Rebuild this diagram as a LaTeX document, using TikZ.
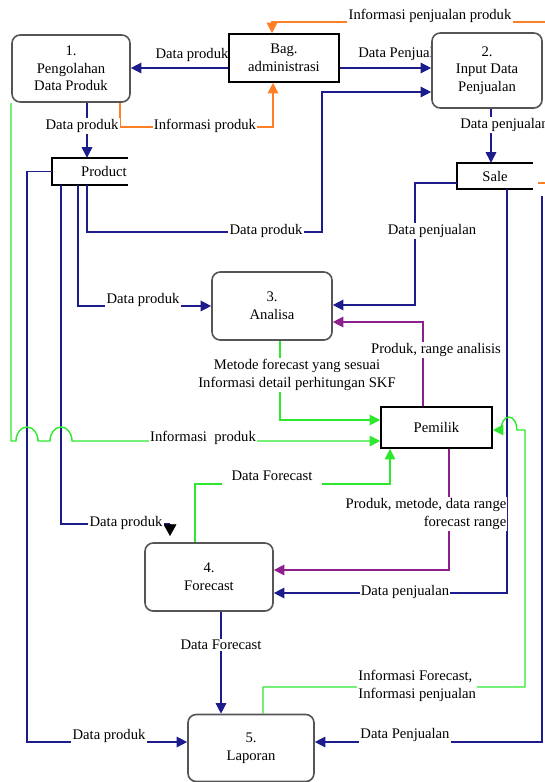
\documentclass[tikz,border=0pt]{standalone}
\usepackage{fontspec}
\setmainfont{Liberation Serif}
\usepackage{tikz}
\usetikzlibrary{arrows.meta, backgrounds}
\definecolor{flowblue}{HTML}{1C1C8C}
\definecolor{flowgreen}{HTML}{2EE82E}
\definecolor{floworange}{HTML}{FF7F27}
\definecolor{flowpurple}{HTML}{8E1F8E}
\definecolor{procdraw}{HTML}{555555}
\tikzset{
  txt/.style={font=\fontsize{12.5}{15}\selectfont},
  proc/.style={rectangle, rounded corners=7pt, draw=procdraw, line width=1.4pt, fill=white, align=center, txt, inner sep=2pt},
  ent/.style={rectangle, draw=black, line width=1.4pt, fill=white, align=center, txt, inner sep=2pt},
  store/.style={rectangle, inner sep=1pt, txt},
  storeline/.style={line width=1.4pt, draw=black},
  lbl/.style={txt, inner sep=1pt, align=center},
  lblw/.style={lbl, fill=white},
  arr/.style={-{Triangle[length=9pt, width=9pt]}, line width=1.2pt},
  bflow/.style={arr, draw=flowblue},
  gflow/.style={arr, draw=flowgreen},
  oflow/.style={arr, draw=floworange},
  pflow/.style={arr, draw=flowpurple},
}
\begin{document}
\begin{tikzpicture}[x=0.03cm, y=-0.03cm]
  \useasboundingbox (0,0) rectangle (545,782);
  % processes and entities
  \node[proc, minimum width=3.54cm, minimum height=2.01cm] (olah) at (71,68.5) {1.\\Pengolahan\\Data Produk};
  \node[ent, minimum width=3.3cm, minimum height=1.44cm] (admin) at (284,58) {Bag.\\administrasi};
  \node[proc, minimum width=3.3cm, minimum height=2.25cm] (input) at (487,70.5) {2.\\Input Data\\Penjualan};
  \node[proc, minimum width=3.6cm, minimum height=2.04cm] (analisa) at (272,306) {3.\\Analisa};
  \node[ent, minimum width=3.33cm, minimum height=1.23cm] (pemilik) at (436.5,427.5) {Pemilik};
  \node[proc, minimum width=3.84cm, minimum height=2.04cm] (forecast) at (209,577) {4.\\Forecast};
  \node[proc, minimum width=3.78cm, minimum height=2.01cm] (laporan) at (251,748) {5.\\Laporan};
  % data stores
  \node[store, minimum width=2.28cm, minimum height=0.81cm, text width=2.2cm, align=right] (product) at (90,171.5) {Product};
  \node[store, minimum width=2.28cm, minimum height=0.78cm] (sale) at (495,176) {Sale};
  \draw[storeline] (product.north east) -- (product.north west) -- (product.south west) -- (product.south east);
  \draw[storeline] (sale.north east) -- (sale.north west) -- (sale.south west) -- (sale.south east);
  % free ends
  \coordinate (topin) at (545,22);
  \coordinate (saleout) at (538,183);
  \coordinate (rimout) at (545,183);
  \coordinate (gin) at (11,103);
  \coordinate (bin) at (542,196);
  \coordinate (dtip) at (170,524);
  % flows
  \draw[bflow] (admin.west |- 0,68) -- (olah.east |- 0,68);
  \draw[bflow] (admin.east |- 0,68) -- (input.west |- 0,68);
  \draw[oflow] (topin) -| ([xshift=-0.36cm]admin.north);
  \draw[line width=1.2pt, draw=floworange] (saleout) -- (rimout);
  \draw[oflow] (olah.south -| 120,0) |- (273,127) -- (admin.south -| 273,0);
  \draw[bflow] (olah.south -| 87,0) -- (product.north -| 87,0);
  \draw[bflow] (input.south -| 491,0) -- (sale.north -| 491,0);
  \draw[bflow] (product.south -| 87,0) |- (322,232) |- (input.west |- 0,92);
  \draw[bflow] (product.south -| 78,0) |- (analisa.west);
  \draw[line width=1.2pt, draw=flowblue] (product.south -| 61,0) |- (dtip);
  \draw[-{Triangle[length=10pt, width=11pt]}, line width=0.4pt, black] (dtip) -- (170,536);
  \draw[bflow] (product.west) -| (27,742) -- (laporan.west |- 0,742);
  \draw[bflow] (sale.west |- 0,183) -| (415,305) -- (analisa.east |- 0,305);
  \draw[pflow] (pemilik.north -| 423,0) |- (analisa.east |- 0,322);
  \draw[gflow] (analisa.south -| 280,0) |- (pemilik.west |- 0,420);
  \draw[gflow] (gin) -- (11,441) -- (16,441)
    arc[start angle=180, end angle=0, x radius=0.33cm, y radius=0.42cm] -- (50,441)
    arc[start angle=180, end angle=0, x radius=0.33cm, y radius=0.42cm] -- (pemilik.west |- 0,441);
  \draw[gflow] (forecast.north -| 195,0) |- (390,484) -- (pemilik.south -| 390,0);
  \draw[pflow] (pemilik.south -| 449,0) |- (forecast.east |- 0,570);
  \draw[bflow] (sale.south -| 507,0) |- (forecast.east |- 0,593);
  \draw[bflow] (bin) |- (laporan.east |- 0,742);
  \draw[bflow] (forecast.south -| 221,0) -- (laporan.north -| 221,0);
  \draw[gflow] (laporan.north -| 263,0) |- (525,687) |- (517,430)
    arc[start angle=0, end angle=180, x radius=0.24cm, y radius=0.39cm] -- (pemilik.east |- 0,430);
  % labels
  \begin{scope}[on background layer]
    \node[lbl] (lprodadm) at (192,55) {Data produk};
    \node[lbl, anchor=west] (lpenjadm) at (357,54) {Data Penjualan};
  \end{scope}
  \node[lblw] (linfojual) at (430,16) {Informasi penjualan produk};
  \node[lblw] (linfoprod) at (205,126) {Informasi produk};
  \node[lblw] (lprodstore) at (82,126) {Data produk};
  \node[lblw, anchor=west] (ljualstore) at (459,125) {Data penjualan};
  \node[lblw] (lprodinput) at (266,231) {Data produk};
  \node[lblw] (ljualana) at (432,231) {Data penjualan};
  \node[lblw] (lprodana) at (143,300) {Data produk};
  \node[lblw] (lrange) at (436,350) {Produk, range analisis};
  \node[lblw] (lmetode) at (297,375) {Metode forecast yang sesuai\\Informasi detail perhitungan SKF};
  \node[lblw] (linfopem) at (203,438) {Informasi\ \ produk};
  \node[lblw, minimum width=3cm, minimum height=0.66cm] (lfcpem) at (272,476) {Data Forecast};
  \node[lblw, align=right] (lmetrange) at (426,514) {Produk, metode, data range\\forecast range};
  \node[lblw] (lprodfc) at (126,523) {Data produk};
  \node[lblw] (ljualfc) at (405,592) {Data penjualan};
  \node[lblw] (lfclap) at (221,645) {Data Forecast};
  \node[lblw, align=left, anchor=west] (linfolap) at (357,686) {Informasi Forecast,\\Informasi penjualan};
  \node[lblw, minimum height=0.66cm] (ljuallap) at (405,735) {Data Penjualan};
  \node[lblw, minimum width=2.3cm, minimum height=0.66cm] (lprodlap) at (109,736) {Data produk};
\end{tikzpicture}
\end{document}
